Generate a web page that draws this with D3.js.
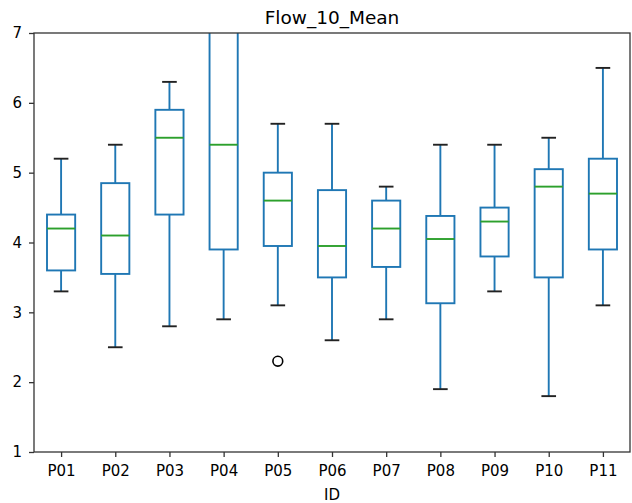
<!DOCTYPE html>
<html>
<head>
<meta charset="utf-8">
<script src="https://cdn.jsdelivr.net/npm/d3@7"></script>
<style>
  body { margin: 0; background: #fff; }
  text { font-family: "DejaVu Sans", sans-serif; fill: #000; }
</style>
</head>
<body>
<script>
// box stats
var ids      = ["P01","P02","P03","P04","P05","P06","P07","P08","P09","P10","P11"];
var whiskLo  = [3.3, 2.5, 2.8, 2.9, 3.1, 2.6, 2.9, 1.9, 3.3, 1.8, 3.1];
var q1       = [3.6, 3.55, 4.4, 3.9, 3.95, 3.5, 3.65, 3.13, 3.8, 3.5, 3.9];
var medians  = [4.2, 4.1, 5.5, 5.4, 4.6, 3.95, 4.2, 4.05, 4.3, 4.8, 4.7];
var q3       = [4.4, 4.85, 5.9, 7.6, 5.0, 4.75, 4.6, 4.38, 4.5, 5.05, 5.2];
var whiskHi  = [5.2, 5.4, 6.3, 8.8, 5.7, 5.7, 4.8, 5.4, 5.4, 5.5, 6.5];
var outliers = [{id: "P05", v: 2.3}];
var yTicks   = [1, 2, 3, 4, 5, 6, 7];

var W = 632, H = 503;
var m = {top: 33, right: 2, bottom: 51, left: 34};
var iw = W - m.left - m.right, ih = H - m.top - m.bottom;

var svg = d3.select("body").append("svg")
    .attr("width", W).attr("height", H);

svg.append("defs").append("clipPath").attr("id", "clip")
  .append("rect").attr("width", iw).attr("height", ih);

var g = svg.append("g").attr("transform", "translate(" + m.left + "," + m.top + ")");

var x = d3.scalePoint().domain(ids).range([0, iw]).padding(0.5);
var y = d3.scaleLinear().domain([1, 7]).range([ih, 0]);
var step = x.step();
var bw = step * 0.52, cw = step * 0.27;
var sw = 1.9;

var boxes = ids.map(function(id, i) {
  return {id: id, lo: whiskLo[i], q1: q1[i], med: medians[i], q3: q3[i], hi: whiskHi[i]};
});

var plot = g.append("g").attr("clip-path", "url(#clip)");

var b = plot.selectAll("g.box").data(boxes).enter().append("g")
    .attr("transform", function(d) { return "translate(" + x(d.id) + ",0)"; });

b.append("line").attr("x1", 0).attr("x2", 0)
  .attr("y1", function(d) { return y(d.q3); }).attr("y2", function(d) { return y(d.hi); })
  .attr("stroke", "#1f77b4").attr("stroke-width", sw);
b.append("line").attr("x1", 0).attr("x2", 0)
  .attr("y1", function(d) { return y(d.q1); }).attr("y2", function(d) { return y(d.lo); })
  .attr("stroke", "#1f77b4").attr("stroke-width", sw);
b.append("rect")
  .attr("x", -bw / 2).attr("width", bw)
  .attr("y", function(d) { return y(d.q3); })
  .attr("height", function(d) { return y(d.q1) - y(d.q3); })
  .attr("fill", "none").attr("stroke", "#1f77b4").attr("stroke-width", sw);
b.append("line").attr("x1", -bw / 2).attr("x2", bw / 2)
  .attr("y1", function(d) { return y(d.med); }).attr("y2", function(d) { return y(d.med); })
  .attr("stroke", "#2ca02c").attr("stroke-width", sw);
["lo", "hi"].forEach(function(k) {
  b.append("line").attr("x1", -cw / 2).attr("x2", cw / 2)
    .attr("y1", function(d) { return y(d[k]); }).attr("y2", function(d) { return y(d[k]); })
    .attr("stroke", "#222").attr("stroke-width", sw);
});

plot.selectAll("circle.out").data(outliers).enter().append("circle")
  .attr("cx", function(d) { return x(d.id); })
  .attr("cy", function(d) { return y(d.v); })
  .attr("r", 4.9).attr("fill", "none").attr("stroke", "#000").attr("stroke-width", 1.6);

// axes
var xa = g.append("g").attr("transform", "translate(0," + ih + ")")
  .call(d3.axisBottom(x).tickSize(5).tickPadding(8));
var ya = g.append("g")
  .call(d3.axisLeft(y).tickValues(yTicks).tickFormat(d3.format("d")).tickSize(5).tickPadding(7));
[xa, ya].forEach(function(a) {
  a.select(".domain").remove();
  a.selectAll("text").style("font-size", "15px").style("font-family", "DejaVu Sans, sans-serif");
  a.selectAll("line").attr("stroke", "#333").attr("stroke-width", 1.3);
});

g.append("rect").attr("width", iw).attr("height", ih)
  .attr("fill", "none").attr("stroke", "#333").attr("stroke-width", 1.3);

svg.append("text").attr("x", m.left + iw / 2).attr("y", 24)
  .attr("text-anchor", "middle").style("font-size", "18.5px").text("Flow_10_Mean");
svg.append("text").attr("x", m.left + iw / 2).attr("y", 500)
  .attr("text-anchor", "middle").style("font-size", "15px").text("ID");
</script>
</body>
</html>
